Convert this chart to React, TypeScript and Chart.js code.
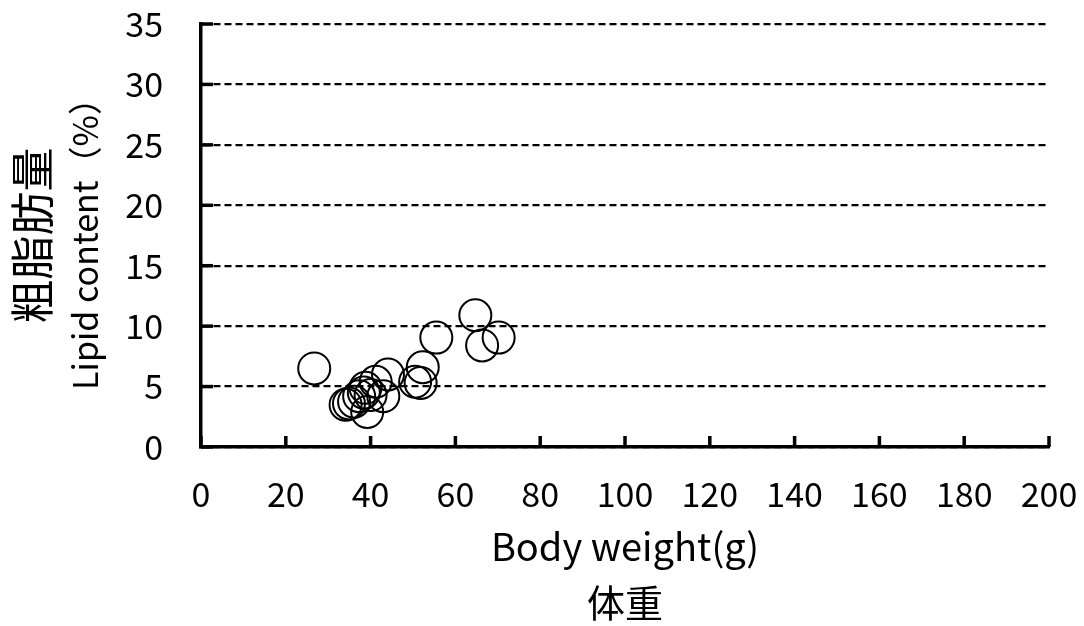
import React, { useEffect, useRef } from "react";
import { Chart, registerables } from "chart.js";

Chart.register(...registerables);

const bodyWeight = [26.7, 64.7, 55.5, 66.3, 70.2, 52.3, 50.5, 51.8, 44.1, 41.2, 38.8, 43.0, 39.2, 34.1, 34.9, 36.1, 37.3, 38.4, 40.0];
const lipidContent = [6.5, 10.9, 9.05, 8.4, 9.05, 6.6, 5.4, 5.3, 6.0, 5.4, 4.9, 4.2, 2.9, 3.5, 3.6, 3.75, 4.2, 4.5, 4.3];
const xTitle = ["Body weight(g)", "体重"];
const yTitleJa = "粗脂肪量";
const yTitleEn = "Lipid content（%）";

const FONT = "'Noto Sans CJK JP', 'Liberation Sans', sans-serif";

const innerTicks = {
  id: "innerTicks",
  afterDraw(chart: any) {
    const ctx = chart.ctx;
    const xs = chart.scales.x;
    const ys = chart.scales.y;
    const area = chart.chartArea;
    ctx.save();
    ctx.strokeStyle = "#000";
    ctx.lineWidth = 3.5;
    xs.ticks.forEach((t: any) => {
      const px = xs.getPixelForValue(t.value);
      ctx.beginPath();
      ctx.moveTo(px, area.bottom);
      ctx.lineTo(px, area.bottom - 11);
      ctx.stroke();
    });
    ys.ticks.forEach((t: any) => {
      const py = ys.getPixelForValue(t.value);
      ctx.beginPath();
      ctx.moveTo(area.left, py);
      ctx.lineTo(area.left + 12, py);
      ctx.stroke();
    });
    ctx.restore();
  },
};

export default function App() {
  const ref = useRef<HTMLCanvasElement>(null);
  useEffect(() => {
    document.body.style.margin = "0";
    const data = bodyWeight.map((x, i) => ({ x, y: lipidContent[i] }));
    const chart = new Chart(ref.current!, {
      type: "scatter",
      data: {
        datasets: [
          {
            data,
            xAxisID: "x",
            yAxisID: "y",
            pointRadius: 16,
            pointHoverRadius: 16,
            pointBorderWidth: 2,
            borderColor: "#000",
            backgroundColor: "rgba(0,0,0,0)",
          },
        ],
      },
      options: {
        animation: false,
        responsive: false,
        devicePixelRatio: 1,
        layout: { padding: { top: 24, right: 0, left: 0, bottom: 0 } },
        plugins: { legend: { display: false }, tooltip: { enabled: false } },
        scales: {
          x: {
            type: "linear",
            min: 0,
            max: 200,
            afterFit(s: any) {
              s.height = 179;
              s.paddingLeft = 0;
              s.paddingRight = 35;
            },
            ticks: { stepSize: 20, color: "#000", font: { family: FONT, size: 34 }, padding: 27 },
            grid: { display: false, drawTicks: false },
            border: { display: true, color: "#000", width: 3.5 },
            title: {
              display: true,
              text: xTitle,
              color: "#000",
              font: { family: FONT, size: 38, lineHeight: 1.47 },
              padding: { top: 0, bottom: -4 },
            },
          },
          y: {
            type: "linear",
            position: "left",
            weight: 0,
            min: 0,
            max: 35,
            afterFit(s: any) {
              s.width = 143;
              s.paddingTop = 0;
              s.paddingBottom = 0;
            },
            ticks: { stepSize: 5, color: "#000", font: { family: FONT, size: 34 }, padding: 38 },
            grid: { display: true, color: "#000", lineWidth: 2.2, drawTicks: false },
            border: { display: true, color: "#000", width: 3.5, dash: [7, 4] },
            title: {
              display: true,
              text: yTitleEn,
              color: "#000",
              font: { family: FONT, size: 34, lineHeight: 1.2 },
              padding: { top: 7, bottom: 0 },
            },
          },
          yTitle: {
            type: "linear",
            axis: "y",
            position: "left",
            weight: 1,
            min: 0,
            max: 35,
            afterFit(s: any) {
              s.width = 58;
              s.paddingTop = 0;
              s.paddingBottom = 0;
            },
            ticks: { display: false },
            grid: { display: false, drawTicks: false },
            border: { display: false },
            title: {
              display: true,
              text: yTitleJa,
              color: "#000",
              font: { family: FONT, size: 44, lineHeight: 1.2 },
              padding: { top: 6, bottom: 0 },
            },
          },
        },
      },
      plugins: [innerTicks],
    } as any);
    return () => chart.destroy();
  }, []);
  return (
    <div style={{ position: "absolute", left: 0, top: 0, width: 1084, height: 626, background: "#fff" }}>
      <canvas ref={ref} width={1084} height={626} style={{ width: 1084, height: 626 }} />
    </div>
  );
}
